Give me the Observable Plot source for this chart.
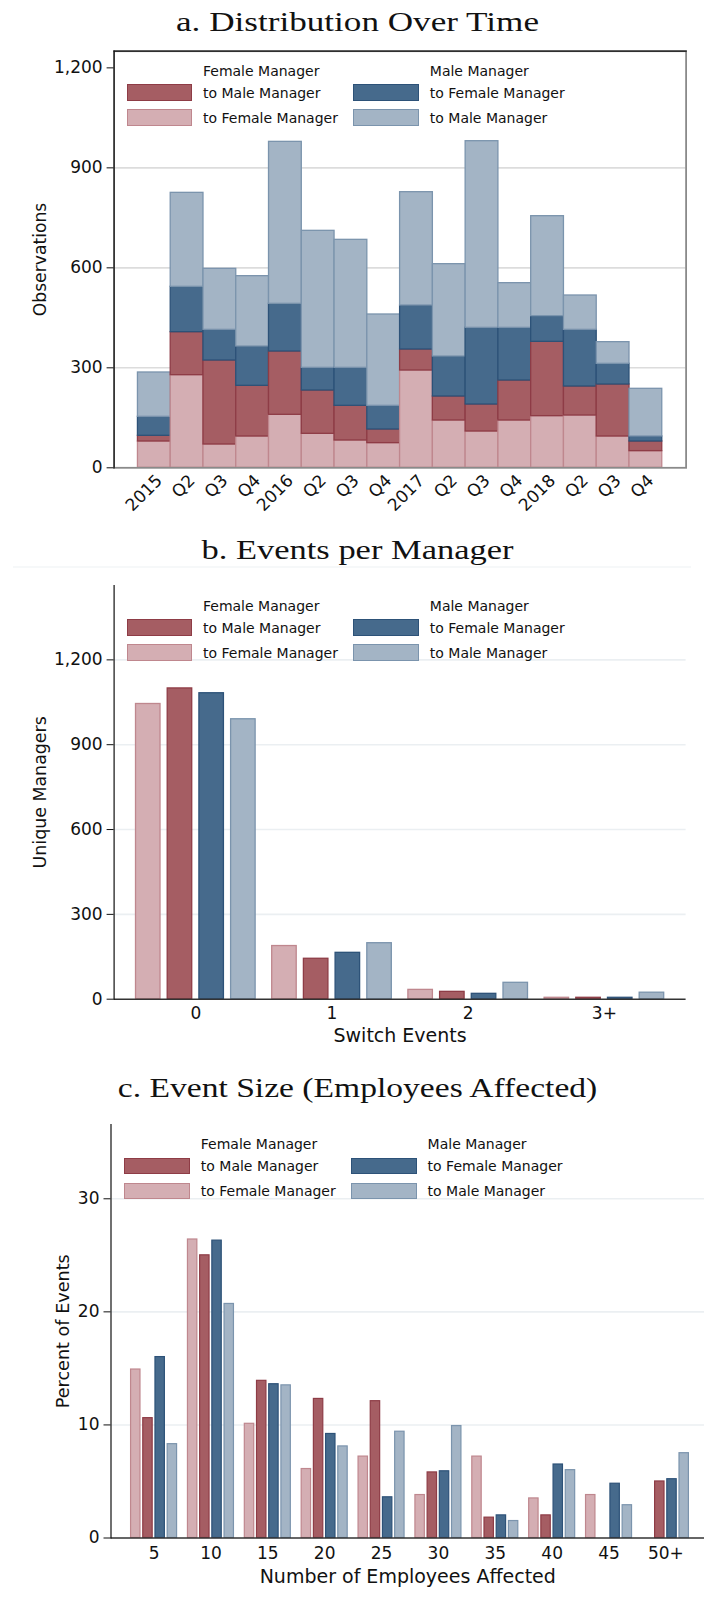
<!DOCTYPE html>
<html><head><meta charset="utf-8">
<script src="https://cdn.jsdelivr.net/npm/d3@7"></script>
<script src="https://cdn.jsdelivr.net/npm/@observablehq/plot@0.6"></script>
<style>
body{margin:0;background:#fff;}
#page{position:relative;width:704px;height:1604px;overflow:hidden;font-family:"DejaVu Sans",sans-serif;background:#fff;}
.abs{position:absolute;left:0;}
.abs svg{display:block;}
.lt{position:absolute;font-size:14px;color:#111;white-space:nowrap;line-height:1;transform:translateY(-50%);}
.sw{position:absolute;box-sizing:border-box;border-style:solid;border-width:1.5px;}
</style></head><body><div id="page"></div>
<script>
// ---------- data ----------
const seriesKeys = ["FF", "FM", "MF", "MM"]; // bottom->top stack, left->right groups
const fillOf = {FF: "#d4aeb3", FM: "#a55d63", MF: "#466a8c", MM: "#a3b4c5"};
const strokeOf = {FF: "#bf878e", FM: "#8e3c46", MF: "#2d5278", MM: "#7b94ad"};

// panel a
const periods = ["2015Q1","2015Q2","2015Q3","2015Q4","2016Q1","2016Q2","2016Q3","2016Q4","2017Q1","2017Q2","2017Q3","2017Q4","2018Q1","2018Q2","2018Q3","2018Q4"];
const periodLabels = ["2015","Q2","Q3","Q4","2016","Q2","Q3","Q4","2017","Q2","Q3","Q4","2018","Q2","Q3","Q4"];
const obsFF = [79, 278, 70, 94, 159, 102, 82, 74, 292, 142, 109, 142, 155, 157, 94, 50];
const obsFM = [17, 129, 252, 152, 190, 130, 104, 41, 63, 72, 81, 120, 223, 87, 156, 29];
const obsMF = [57, 136, 92, 118, 143, 68, 114, 71, 132, 120, 230, 158, 77, 170, 62, 15];
const obsMM = [133, 282, 183, 211, 486, 411, 384, 274, 340, 277, 560, 134, 300, 103, 65, 143];
const obsTicks = [0, 300, 600, 900, 1200];

// panel b
const switchCats = ["0", "1", "2", "3+"];
const mgrFF = [1044, 188, 33, 5];
const mgrFM = [1099, 143, 26, 5];
const mgrMF = [1082, 164, 19, 5];
const mgrMM = [990, 198, 58, 23];
const mgrTicks = [0, 300, 600, 900, 1200];

// panel c
const sizeCats = ["5", "10", "15", "20", "25", "30", "35", "40", "45", "50+"];
const pctFF = [14.9, 26.4, 10.1, 6.1, 7.2, 3.8, 7.2, 3.5, 3.8, 0];
const pctFM = [10.6, 25.0, 13.9, 12.3, 12.1, 5.8, 1.8, 2.0, 0, 5.0];
const pctMF = [16.0, 26.3, 13.6, 9.2, 3.6, 5.9, 2.0, 6.5, 4.8, 5.2];
const pctMM = [8.3, 20.7, 13.5, 8.1, 9.4, 9.9, 1.5, 6.0, 2.9, 7.5];
const pctTicks = [0, 10, 20, 30];

// legend
const legendHeaders = ["Female Manager", "Male Manager"];
const legendItems = [
  [["FM", "to Male Manager"], ["FF", "to Female Manager"]],
  [["MF", "to Female Manager"], ["MM", "to Male Manager"]]
];

const titles = ["a. Distribution Over Time", "b. Events per Manager", "c. Event Size (Employees Affected)"];

// ---------- helpers ----------
const page = document.getElementById("page");
function place(node, top) {
  const d = document.createElement("div");
  d.className = "abs"; d.style.top = top + "px";
  d.appendChild(node); page.appendChild(d);
}
function long(cats, byKey) {
  const out = [];
  cats.forEach((c, i) => seriesKeys.forEach(k => out.push({cat: c, series: k, value: byKey[k][i]})));
  return out;
}
const baseStyle = {fontFamily: "DejaVu Sans", fontSize: "17px", color: "#111", background: "transparent", overflow: "visible"};

function title(text, top, h, baseline, len, sep) {
  const svg = d3.create("svg").attr("width", 704).attr("height", h);
  if (sep != null) svg.append("line").attr("x1", 13).attr("x2", 691).attr("y1", sep).attr("y2", sep).attr("stroke", "#eef1f3").attr("stroke-width", 1.2);
  svg.append("text").attr("x", 357.5).attr("y", baseline).attr("text-anchor", "middle")
    .attr("font-family", "Liberation Serif").attr("font-size", 27).attr("fill", "#111")
    .attr("textLength", len).attr("lengthAdjust", "spacingAndGlyphs").text(text);
  place(svg.node(), top);
}

function legend(x0, y0) {
  legendHeaders.forEach((h, c) => {
    const cx = x0 + c * 226.8;
    const t = document.createElement("div"); t.className = "lt";
    t.style.left = (cx + 76.4) + "px"; t.style.top = y0 + "px"; t.textContent = h; page.appendChild(t);
    legendItems[c].forEach(([k, lab], r) => {
      const s = document.createElement("div"); s.className = "sw";
      s.style.left = cx + "px"; s.style.top = (y0 + 13.3 + r * 25) + "px";
      s.style.width = "65.5px"; s.style.height = "16.7px";
      s.style.background = fillOf[k]; s.style.borderColor = strokeOf[k];
      page.appendChild(s);
      const l = document.createElement("div"); l.className = "lt";
      l.style.left = (cx + 76.4) + "px"; l.style.top = (y0 + 22 + r * 25) + "px"; l.textContent = lab;
      page.appendChild(l);
    });
  });
}
const yLab = (t, dx, fs) => Plot.text([t], {text: d => d, frameAnchor: "left", rotate: -90, dx, textAnchor: "middle", lineAnchor: "middle", fontSize: fs});
const xLab = (t, dy, fs) => Plot.text([t], {text: d => d, frameAnchor: "bottom", dy, textAnchor: "middle", lineAnchor: "middle", fontSize: fs});

// ---------- panel a ----------
title(titles[0], 0, 40, 31, 363);
const labelOf = new Map(periods.map((p, i) => [p, periodLabels[i]]));
const obsData = long(periods, {FF: obsFF, FM: obsFM, MF: obsMF, MM: obsMM});
const plotA = Plot.plot({
  width: 704, height: 490,
  marginTop: 10.7, marginBottom: 62.7, marginLeft: 113.6, marginRight: 18.4,
  style: baseStyle,
  x: {domain: periods, paddingInner: 0, paddingOuter: 0.7275, round: false, label: null},
  y: {domain: [0, 1250], label: null},
  color: {type: "identity"},
  marks: [
    Plot.ruleY([300, 600, 900], {stroke: "#dcdcdc", strokeWidth: 1.6}),
    Plot.barY(obsData, {x: "cat", y: "value", z: "series", order: seriesKeys,
      fill: d => fillOf[d.series], stroke: d => strokeOf[d.series], strokeWidth: 1.3}),
    Plot.frame({stroke: "#8a8a8a", strokeWidth: 1.8}),
    Plot.frame({anchor: "left", stroke: "#111", strokeWidth: 1.2}),
    Plot.frame({anchor: "top", stroke: "#111", strokeWidth: 1.2}),
    Plot.axisY({ticks: obsTicks, tickSize: 7, tickPadding: 4.5, tickFormat: d3.format(","), label: null}),
    Plot.axisX({tickSize: 0, tickPadding: 10, tickRotate: -45, textAnchor: "end", lineAnchor: "middle", dx: 5,
      tickFormat: d => labelOf.get(d), label: null}),
    yLab("Observations", -73.6, 17.2)
  ]
});
place(plotA, 40);
legend(126.6, 71);

// ---------- panel b ----------
title(titles[1], 530, 45, 29.3, 312, 37);
const mgrData = long(switchCats, {FF: mgrFF, FM: mgrFM, MF: mgrMF, MM: mgrMM});
const plotB = Plot.plot({
  width: 704, height: 475,
  marginTop: 10, marginBottom: 51.3, marginLeft: 113.6, marginRight: 18.4,
  style: baseStyle,
  x: {domain: switchCats, paddingInner: 0.82, paddingOuter: 0.51, round: false, label: null},
  y: {domain: [0, 1463], label: null},
  marks: [
    Plot.ruleY(mgrTicks.slice(1), {stroke: "#ebeff2", strokeWidth: 1.6}),
    ...seriesKeys.map((k, i) => Plot.barY(mgrData.filter(d => d.series === k && d.value > 0), {
      x: "cat", y: "value", fill: fillOf[k], stroke: strokeOf[k], strokeWidth: 1.3, dx: (i - 1.5) * 31.7})),
    Plot.ruleY([0], {stroke: "#333", strokeWidth: 1.6}),
    Plot.frame({anchor: "left", stroke: "#111", strokeWidth: 1.2}),
    Plot.axisY({ticks: mgrTicks, tickSize: 7, tickPadding: 4.5, tickFormat: d3.format(","), label: null}),
    Plot.axisX({tickSize: 0, tickPadding: 8, label: null}),
    xLab("Switch Events", 37, 19),
    yLab("Unique Managers", -73.6, 17.4)
  ]
});
place(plotB, 575);
legend(126.6, 606);

// ---------- panel c ----------
title(titles[2], 1050, 65, 46.7, 479.5);
const pctData = long(sizeCats, {FF: pctFF, FM: pctFM, MF: pctMF, MM: pctMM});
const plotC = Plot.plot({
  width: 704, height: 489,
  marginTop: 9, marginBottom: 66.5, marginLeft: 110.5, marginRight: 0,
  style: baseStyle,
  x: {domain: sizeCats, paddingInner: 0.8347, paddingOuter: 0.6354, align: 0.531, round: false, label: null},
  y: {domain: [0, 36.57], label: null},
  marks: [
    Plot.ruleY(pctTicks.slice(1), {stroke: "#ebeff2", strokeWidth: 1.6}),
    ...seriesKeys.map((k, i) => Plot.barY(pctData.filter(d => d.series === k && d.value > 0), {
      x: "cat", y: "value", fill: fillOf[k], stroke: strokeOf[k], strokeWidth: 1.2, dx: (i - 1.5) * 12.2})),
    Plot.ruleY([0], {stroke: "#333", strokeWidth: 1.6}),
    Plot.frame({anchor: "left", stroke: "#111", strokeWidth: 1.2}),
    Plot.axisY({ticks: pctTicks, tickSize: 7, tickPadding: 4.5, label: null}),
    Plot.axisX({tickSize: 0, tickPadding: 9, label: null}),
    xLab("Number of Employees Affected", 38.5, 19),
    yLab("Percent of Events", -47.5, 17.6)
  ]
});
place(plotC, 1115);
legend(124.4, 1144.3);
</script></body></html>
